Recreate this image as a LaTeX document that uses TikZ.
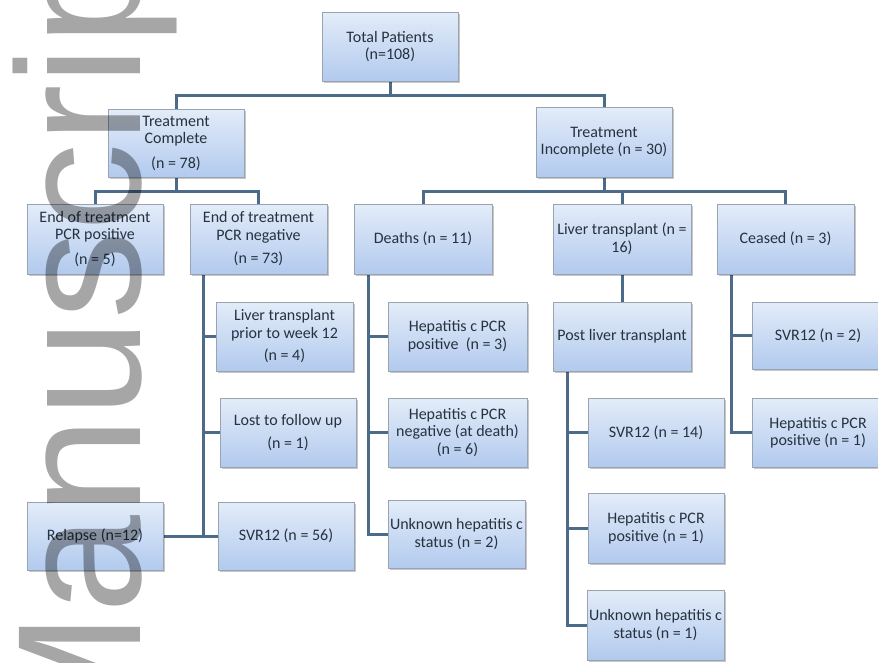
\documentclass[tikz,border=0pt]{standalone}
\usepackage{fontspec}
\setmainfont{Carlito}
\newfontfamily\wmfont{Liberation Sans}
\usetikzlibrary{shadows,backgrounds}
\definecolor{boxtop}{HTML}{E3ECF9}
\definecolor{boxbot}{HTML}{B2CAEE}
\definecolor{boxline}{HTML}{98A4B2}
\definecolor{conncol}{HTML}{4C6B89}
\definecolor{txtcol}{HTML}{27323F}
\definecolor{wmcol}{HTML}{A6A6A6}
\tikzset{
  bx/.style={rectangle, draw=boxline, line width=0.8pt, top color=boxtop, bottom color=boxbot,
    drop shadow={shadow xshift=1.5pt, shadow yshift=-2pt, fill=black, opacity=0.22},
    align=center, inner sep=0pt, text=txtcol, font=\fontsize{16}{17.5}\selectfont},
  conn/.style={draw=conncol, line width=3pt},
  wm/.style={anchor=base west, rotate=90, text=wmcol, inner sep=0pt,
    font=\wmfont\fontsize{176}{176}\selectfont}
}
\newcommand\mybox[6]{\node[bx, minimum width={(#4-#2)*1pt}, minimum height={(#5-#3)*1pt}]
  (#1) at ({(#2+#4)/2},{(#3+#5)/2}) {#6};}
\begin{document}
\begin{tikzpicture}[x=1pt,y=-1pt]
\clip (0,0) rectangle (878,662);
% level 1-2
\mybox{total}{322}{12}{458}{81}{Total Patients\\(n=108)}
\mybox{tc}{108}{109}{244}{177}{Treatment\\Complete\\[7pt](n = 78)}
\mybox{ti}{536}{107}{672}{177}{Treatment\\Incomplete (n = 30)}
% level 3
\mybox{pcrpos}{27}{204}{163}{274}{End of treatment\\PCR positive\\[7pt](n = 5)}
\mybox{pcrneg}{190}{204}{327}{274}{End of treatment\\PCR negative\\[6pt](n = 73)}
\mybox{deaths}{354}{204}{492}{274}{Deaths (n = 11)}
\mybox{lt}{553}{204}{691}{274}{Liver transplant (n =\\16)}
\mybox{ceased}{717}{204}{854}{274}{Ceased (n = 3)}
% PCR negative column
\mybox{ltp}{216}{302}{353}{371}{Liver transplant\\prior to week 12\\[5pt](n = 4)}
\mybox{lost}{220}{398}{356}{467}{Lost to follow up\\[6pt](n = 1)}
\mybox{svrfs}{218}{502}{354}{570}{SVR12 (n = 56)}
\mybox{relapse}{27}{502}{163}{570}{Relapse (n=12)}
% deaths column
\mybox{hposthree}{388}{302}{527}{371}{Hepatitis c PCR\\positive\ \ (n = 3)}
\mybox{hnegsix}{388}{398}{527}{467}{Hepatitis c PCR\\negative (at death)\\(n = 6)}
\mybox{unktwo}{388}{500}{525}{568}{Unknown hepatitis c\\status (n = 2)}
% liver transplant column
\mybox{post}{553}{302}{691}{371}{Post liver transplant}
\mybox{svrft}{588}{398}{724}{467}{SVR12 (n = 14)}
\mybox{hposonea}{588}{493}{724}{563}{Hepatitis c PCR\\positive (n = 1)}
\mybox{unkone}{587}{590}{724}{660}{Unknown hepatitis c\\status (n = 1)}
% ceased column
\mybox{svrtwo}{752}{302}{884}{369}{SVR12 (n = 2)}
\mybox{hposoneb}{752}{398}{884}{467}{Hepatitis c PCR\\positive (n = 1)}

\begin{pgfonlayer}{background}
\fill[white] (0,0) rectangle (878,662);
\draw[conn] (total.south) -- ++(0,14) coordinate (j1) -| (tc.north);
\draw[conn] (j1) -| (ti.north);
\draw[conn] (tc.south) -- ++(0,14) coordinate (j2) -| (pcrpos.north);
\draw[conn] (j2) -| (pcrneg.north);
\draw[conn] (ti.south) -- ++(0,14) coordinate (j3) -| (deaths.north);
\draw[conn] (j3) -| (lt.north);
\draw[conn] (j3) -| (ceased.north);
% PCR negative
\coordinate (v1) at ([xshift=14pt]pcrneg.south west);
\draw[conn] (v1) |- (svrfs.west);
\draw[conn] (v1) |- (ltp.west);
\draw[conn] (v1) |- (lost.west);
\draw[conn] (relapse.east) -- (svrfs.west);
% deaths
\coordinate (v2) at ([xshift=15pt]deaths.south west);
\draw[conn] (v2) |- (unktwo.west);
\draw[conn] (v2) |- (hposthree.west);
\draw[conn] (v2) |- (hnegsix.west);
% liver transplant
\draw[conn] (lt.south) -- (post.north);
\coordinate (v3) at ([xshift=15pt]post.south west);
\draw[conn] (v3) |- (unkone.west);
\draw[conn] (v3) |- (svrft.west);
\draw[conn] (v3) |- (hposonea.west);
% ceased
\coordinate (v4) at ([xshift=15pt]ceased.south west);
\draw[conn] (v4) |- (hposoneb.west);
\draw[conn] (v4) |- (svrtwo.west);
\end{pgfonlayer}

% watermark
\begin{scope}[blend mode=multiply]
\node[wm] (mark) at (140,760) {Manuscript};
\end{scope}
\end{tikzpicture}
\end{document}
